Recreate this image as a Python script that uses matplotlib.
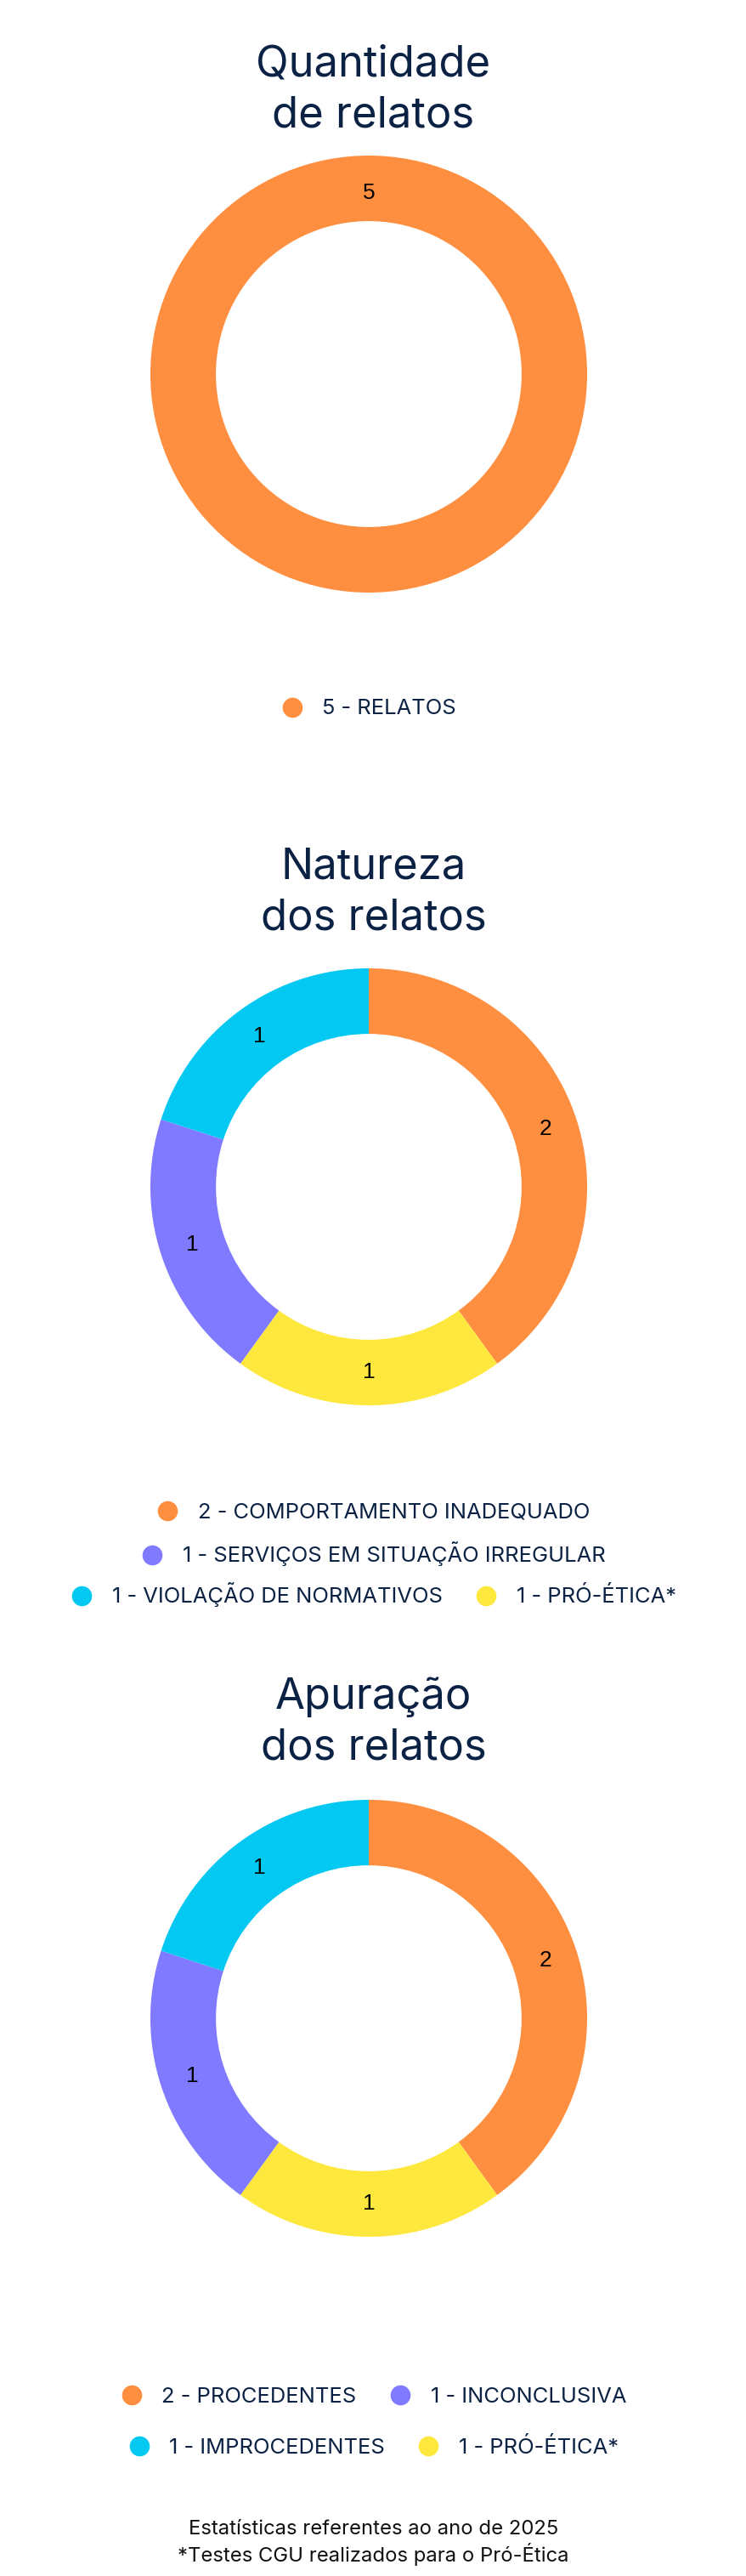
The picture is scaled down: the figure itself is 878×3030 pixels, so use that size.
import matplotlib
matplotlib.use("Agg")
import matplotlib.pyplot as plt
from matplotlib.lines import Line2D

W, H = 879, 3030
DPI = 100

# ---------------- data ----------------
title1 = "Quantidade\nde relatos"
cats1 = ["RELATOS"]
vals1 = [5]

title2 = "Natureza\ndos relatos"
cats2 = ["COMPORTAMENTO INADEQUADO", "PRÓ-ÉTICA*", "SERVIÇOS EM SITUAÇÃO IRREGULAR", "VIOLAÇÃO DE NORMATIVOS"]
vals2 = [2, 1, 1, 1]

title3 = "Apuração\ndos relatos"
cats3 = ["PROCEDENTES", "PRÓ-ÉTICA*", "INCONCLUSIVA", "IMPROCEDENTES"]
vals3 = [2, 1, 1, 1]

footer = "Estatísticas referentes ao ano de 2025\n*Testes CGU realizados para o Pró-Ética"

# ---------------- style ----------------
ORANGE = "#FF8F40"
YELLOW = "#FFE83D"
PURPLE = "#7F7AFF"
CYAN = "#03C8F2"
colors1 = [ORANGE]
colors2 = [ORANGE, YELLOW, PURPLE, CYAN]
colors3 = [ORANGE, YELLOW, PURPLE, CYAN]
NAVY = "#0B2244"
TFONT = ["Inter", "DejaVu Sans"]
LFONT = ["Inter", "DejaVu Sans"]
NFONT = ["Liberation Sans", "DejaVu Sans"]

fig = plt.figure(figsize=(W / DPI, H / DPI), dpi=DPI)
fig.patch.set_facecolor("white")


def fx(px):
    return px / W


def fy(py):
    return 1 - py / H


def donut(cx, cy, R, vals, cols, start=90, ld=0.85):
    ax = fig.add_axes([fx(cx - R), fy(cy + R), 2 * R / W, 2 * R / H])
    wedges, texts = ax.pie(vals, colors=cols, startangle=start, counterclock=False,
                           radius=1.0, wedgeprops=dict(width=0.3, linewidth=0),
                           labels=[str(v) for v in vals], labeldistance=ld,
                           textprops=dict(fontsize=19, color="black", family=NFONT))
    for t in texts:
        t.set_horizontalalignment("center")
        t.set_verticalalignment("center")
    ax.set_xlim(-1, 1)
    ax.set_ylim(-1, 1)
    ax.set_aspect("equal")
    ax.axis("off")
    return ax


def legend_row(items, cy, cx=439.5):
    handles = [Line2D([], [], marker="o", ls="", markersize=17, color=c,
                      markeredgewidth=0) for _, c in items]
    labels = [t for t, _ in items]
    leg = fig.legend(handles, labels, loc="center", bbox_to_anchor=(fx(cx), fy(cy)),
                     ncol=len(items), frameon=False, handlelength=1.0,
                     handletextpad=0.9, columnspacing=1.5,
                     prop=dict(family=LFONT, size=18.4))
    for t in leg.get_texts():
        t.set_color(NAVY)
    return leg


def title(text, y):
    fig.text(0.5, fy(y), text, ha="center", va="center", fontsize=36.5,
             color=NAVY, family=TFONT, linespacing=1.33)


# ---- chart 1 ----
title(title1, 106)
donut(434, 440, 257, vals1, colors1, start=270, ld=0.83)
legend_row([(f"{vals1[0]} - {cats1[0]}", colors1[0])], 834, cx=434)

# ---- chart 2 ----
title(title2, 1050)
donut(434, 1396, 257, vals2, colors2)
legend_row([(f"{vals2[0]} - {cats2[0]}", colors2[0])], 1779)
legend_row([(f"{vals2[2]} - {cats2[2]}", colors2[2])], 1828)
legend_row([(f"{vals2[3]} - {cats2[3]}", colors2[3]),
            (f"{vals2[1]} - {cats2[1]}", colors2[1])], 1876)

# ---- chart 3 ----
title(title3, 2026)
donut(434, 2374, 257, vals3, colors3)
legend_row([(f"{vals3[0]} - {cats3[0]}", colors3[0]),
            (f"{vals3[2]} - {cats3[2]}", colors3[2])], 2819)
legend_row([(f"{vals3[3]} - {cats3[3]}", colors3[3]),
            (f"{vals3[1]} - {cats3[1]}", colors3[1])], 2879)

# ---- footer ----
fig.text(0.5, fy(2991), footer, ha="center", va="center", fontsize=17.2,
         color="#111111", family=LFONT, linespacing=1.25)

fig.savefig("out.png", dpi=DPI, facecolor="white")
